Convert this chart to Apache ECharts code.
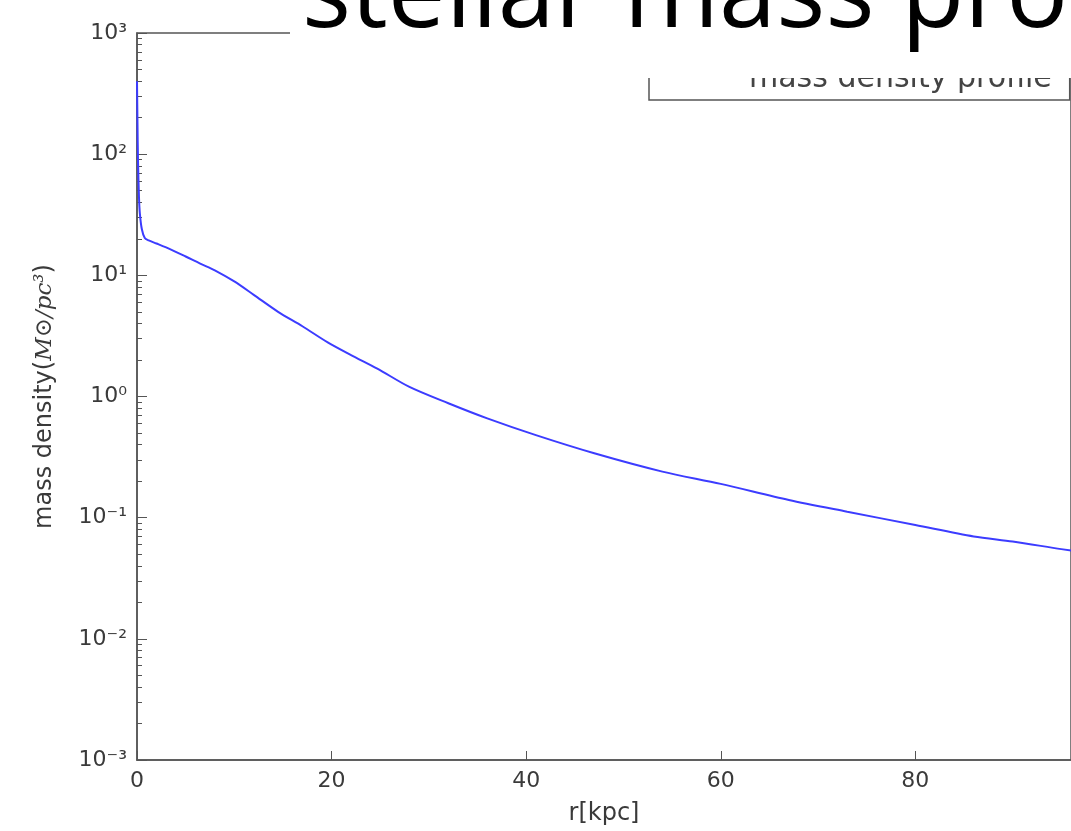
<!DOCTYPE html>
<html>
<head>
<meta charset="utf-8">
<script src="https://cdn.jsdelivr.net/npm/echarts@6/dist/echarts.min.js"></script>
<style>
  html, body { margin: 0; padding: 0; background: #fff; }
  #chart { width: 1071px; height: 831px; }
</style>
</head>
<body>
<div id="chart"></div>
<script>
// ---- data ----
const radius = [0, 0.05, 0.1, 0.2, 0.3, 0.5, 0.8, 1.2, 2, 3.5, 5, 6.5, 8, 10, 12, 14.5, 17, 19.6, 22, 24.7, 28, 32, 36, 41, 47, 54, 60, 67, 73, 80, 86, 90, 95, 100];
const density = [400, 180, 91, 45, 32, 24, 20.3, 19.4, 18.3, 16.3, 14.3, 12.5, 11.0, 8.9, 6.9, 5.0, 3.8, 2.8, 2.2, 1.7, 1.2, 0.88, 0.66, 0.48, 0.34, 0.24, 0.19, 0.14, 0.112, 0.087, 0.070, 0.0636, 0.055, 0.048];
const seriesName = 'mass density profile';
const titleText = 'stellar mass profile';
const xTicks = [0, 20, 40, 60, 80];
const yExponents = { '-3': '⁻³', '-2': '⁻²', '-1': '⁻¹', '0': '⁰', '1': '¹', '2': '²', '3': '³' };
const minorMantissas = [2, 3, 4, 5, 6, 7, 8, 9];
const decades = [-3, -2, -1, 0, 1, 2];

const minorTickPositions = [];
decades.forEach(d => minorMantissas.forEach(m => minorTickPositions.push(Math.log10(m) + d)));

const points = radius.map((r, i) => [r, density[i]]);

const axisColor = '#555';
const labelColor = '#3a3a3a';
const font = 'DejaVu Sans';

const chart = echarts.init(document.getElementById('chart'), null, { renderer: 'canvas' });
chart.setOption({
  backgroundColor: '#fff',
  animation: false,
  title: {
    text: titleText,
    left: 290,
    top: -54,
    zlevel: 2,
    z: 20,
    padding: [0, 0, 0, 12],
    textStyle: { fontFamily: 'Open Sans', fontWeight: 'normal', fontSize: 103, color: '#000' }
  },
  graphic: [
    {
      type: 'rect',
      zlevel: 2,
      z: 1,
      silent: true,
      shape: { x: 290, y: -20, width: 800, height: 98 },
      style: { fill: '#fff' }
    }
  ],
  legend: {
    data: [seriesName],
    left: 649,
    top: 45,
    z: 2,
    zlevel: 0,
    orient: 'vertical',
    padding: [19, 18, 6, 14],
    itemWidth: 80,
    itemHeight: 14,
    borderColor: axisColor,
    borderWidth: 1.5,
    backgroundColor: '#fff',
    itemStyle: { opacity: 0 },
    lineStyle: { opacity: 0 },
    textStyle: { fontFamily: font, fontSize: 30, color: '#444', lineHeight: 30 }
  },
  grid: {
    left: 137,
    top: 33,
    bottom: 66,
    right: -9,
    show: true,
    borderColor: axisColor,
    borderWidth: 1.5,
    containLabel: false
  },
  xAxis: {
    type: 'value',
    min: 0,
    max: 96,
    interval: 20,
    name: 'r[kpc]',
    nameLocation: 'middle',
    nameGap: 42,
    nameTextStyle: { fontFamily: font, fontSize: 24, color: labelColor },
    axisLine: { show: true, onZero: false, lineStyle: { color: axisColor, width: 1.5 } },
    axisTick: { show: true, inside: true, length: 9, lineStyle: { color: axisColor, width: 1 } },
    axisLabel: {
      showMaxLabel: false,
      margin: 10,
      fontFamily: font,
      fontSize: 22,
      color: labelColor,
      formatter: v => xTicks.includes(v) ? String(v) : ''
    },
    splitLine: { show: false }
  },
  yAxis: [
    {
      type: 'log',
      logBase: 10,
      min: 0.001,
      max: 1000,
      interval: 1,
      name: '{a|mass density(}{i|M⊙/pc³}{a|)}',
      nameLocation: 'middle',
      nameGap: 80,
      nameTextStyle: {
        rich: {
          a: { fontFamily: font, fontSize: 24, color: labelColor },
          i: { fontFamily: 'DejaVu Serif', fontStyle: 'italic', fontSize: 23, color: labelColor }
        }
      },
      axisLine: { show: true, onZero: false, lineStyle: { color: axisColor, width: 1.5 } },
      axisTick: { show: true, inside: true, length: 10, lineStyle: { color: axisColor, width: 1 } },
      axisLabel: {
        margin: 10,
        fontFamily: font,
        fontSize: 22,
        color: labelColor,
        formatter: v => {
          const e = Math.round(Math.log10(v));
          return '10' + (yExponents[String(e)] || '');
        }
      },
      splitLine: { show: false }
    },
    {
      type: 'value',
      min: -3,
      max: 3,
      position: 'left',
      axisLine: { show: false, onZero: false },
      axisLabel: { show: false },
      splitLine: { show: false },
      axisTick: {
        show: true,
        inside: true,
        length: 5,
        customValues: minorTickPositions,
        lineStyle: { color: axisColor, width: 1 }
      }
    }
  ],
  series: [
    {
      name: seriesName,
      type: 'line',
      yAxisIndex: 0,
      data: points,
      showSymbol: false,
      symbol: 'none',
      smooth: 0.3,
      clip: true,
      lineStyle: { color: '#3c3cff', width: 2 },
      itemStyle: { color: '#3c3cff' }
    }
  ]
});
</script>
</body>
</html>
